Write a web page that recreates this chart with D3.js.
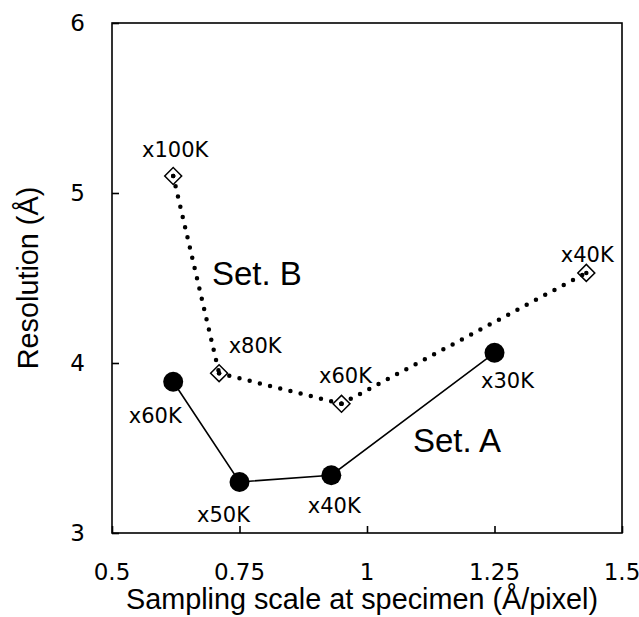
<!DOCTYPE html>
<html>
  <head>
    <meta charset="utf-8"/>
    <script type="text/javascript" src="https://cdnjs.cloudflare.com/ajax/libs/d3/7.8.5/d3.min.js"></script>
    <style type="text/css">

html, body {
  margin: 0;
  padding: 0;
  background: #fff;
}

.tick-label {
  font: 23px "DejaVu Sans", sans-serif;
  fill: #000;
}

.pt-label {
  font: 21px "DejaVu Sans", sans-serif;
  fill: #000;
}

.title, .set-label {
  font-family: "Liberation Sans", Arial, sans-serif;
  fill: #000;
}

    </style>
  </head>
  <body>
    <div id="chart"></div>
    <script type="text/javascript">

// Set A (filled circles, solid line)
var setAx = [0.62, 0.75, 0.93, 1.25];
var setAy = [3.89, 3.30, 3.34, 4.06];
var setAlabels = ["x60K", "x50K", "x40K", "x30K"];

// Set B (open diamonds, dotted line)
var setBx = [0.62, 0.71, 0.95, 1.43];
var setBy = [5.10, 3.94, 3.76, 4.53];
var setBlabels = ["x100K", "x80K", "x60K", "x40K"];

var xTicks = [0.5, 0.75, 1, 1.25, 1.5];
var yTicks = [3, 4, 5, 6];

var width = 639, height = 617;
// plot box edges (note: "top" is taken by window.top)
var boxL = 112, boxR = 622, boxT = 23, boxB = 533;

var svg = d3.select("#chart").append("svg")
    .attr("width", width)
    .attr("height", height);

var x = d3.scaleLinear().domain([0.5, 1.5]).range([boxL, boxR]);
var y = d3.scaleLinear().domain([3, 6]).range([boxB, boxT]);

// plot frame
svg.append("rect")
    .attr("x", boxL)
    .attr("y", boxT)
    .attr("width", boxR - boxL)
    .attr("height", boxB - boxT)
    .attr("fill", "none")
    .attr("stroke", "#000")
    .attr("stroke-width", 1.6);

// axes, ticks pointing inward
var xAxis = svg.append("g")
    .attr("transform", "translate(0," + boxB + ")")
    .call(d3.axisTop(x).tickValues(xTicks).tickSize(7).tickFormat(""));
var yAxis = svg.append("g")
    .attr("transform", "translate(" + boxL + ",0)")
    .call(d3.axisRight(y).tickValues(yTicks).tickSize(7).tickFormat(""));
[xAxis, yAxis].forEach(function(g) {
  g.select(".domain").remove();
  g.selectAll(".tick line").attr("stroke", "#000").attr("stroke-width", 1.6);
});

svg.selectAll(".xlab")
    .data(xTicks)
  .enter().append("text")
    .attr("class", "tick-label")
    .attr("x", function(d) { return x(d); })
    .attr("y", 580)
    .attr("text-anchor", "middle")
    .text(function(d) { return d; });

svg.selectAll(".ylab")
    .data(yTicks)
  .enter().append("text")
    .attr("class", "tick-label")
    .attr("x", boxL - 27)
    .attr("y", function(d) { return y(d) + 8; })
    .attr("text-anchor", "end")
    .text(function(d) { return d; });

// axis titles
svg.append("text")
    .attr("class", "title")
    .attr("x", 362)
    .attr("y", 609)
    .attr("text-anchor", "middle")
    .style("font-size", "28.8px")
    .text("Sampling scale at specimen (Å/pixel)");

svg.append("text")
    .attr("class", "title")
    .attr("transform", "translate(38," + ((boxT + boxB) / 2) + ") rotate(-90)")
    .attr("text-anchor", "middle")
    .style("font-size", "28.8px")
    .text("Resolution (Å)");

var A = setAx.map(function(v, i) { return {x: v, y: setAy[i], label: setAlabels[i]}; });
var B = setBx.map(function(v, i) { return {x: v, y: setBy[i], label: setBlabels[i]}; });

var line = d3.line()
    .x(function(d) { return x(d.x); })
    .y(function(d) { return y(d.y); });

// Set A
svg.append("path")
    .datum(A)
    .attr("d", line)
    .attr("fill", "none")
    .attr("stroke", "#000")
    .attr("stroke-width", 1.6);

svg.selectAll(".ptA")
    .data(A)
  .enter().append("circle")
    .attr("cx", function(d) { return x(d.x); })
    .attr("cy", function(d) { return y(d.y); })
    .attr("r", 10)
    .attr("fill", "#000");

// Set B: diamonds below the dotted line, as in the original
svg.selectAll(".ptB")
    .data(B)
  .enter().append("path")
    .attr("d", d3.symbol().type(d3.symbolSquare).size(144))
    .attr("transform", function(d) {
      return "translate(" + x(d.x) + "," + y(d.y) + ") rotate(45)";
    })
    .attr("fill", "#fff")
    .attr("stroke", "#000")
    .attr("stroke-width", 1.5);

// each segment drawn on its own so the dots restart at each point
d3.pairs(B).forEach(function(p) {
  svg.append("path")
      .datum(p)
      .attr("d", line)
      .attr("fill", "none")
      .attr("stroke", "#000")
      .attr("stroke-width", 4.5)
      .attr("stroke-linecap", "round")
      .attr("stroke-dasharray", "0 10.5");
});

// the line's dot shows in the middle of every diamond
svg.selectAll(".dotB")
    .data(B)
  .enter().append("circle")
    .attr("cx", function(d) { return x(d.x); })
    .attr("cy", function(d) { return y(d.y); })
    .attr("r", 2.25)
    .attr("fill", "#000");

// point labels: [dx, dy of baseline]
var offA = [[-18, 41], [-16, 40], [3, 38], [13, 35]];
var offB = [[2, -19], [36, -20], [4, -21], [1, -11]];

svg.selectAll(".labA")
    .data(A)
  .enter().append("text")
    .attr("class", "pt-label")
    .attr("text-anchor", "middle")
    .attr("x", function(d, i) { return x(d.x) + offA[i][0]; })
    .attr("y", function(d, i) { return y(d.y) + offA[i][1]; })
    .text(function(d) { return d.label; });

svg.selectAll(".labB")
    .data(B)
  .enter().append("text")
    .attr("class", "pt-label")
    .attr("text-anchor", "middle")
    .attr("x", function(d, i) { return x(d.x) + offB[i][0]; })
    .attr("y", function(d, i) { return y(d.y) + offB[i][1]; })
    .text(function(d) { return d.label; });

svg.append("text")
    .attr("class", "set-label")
    .attr("x", 212)
    .attr("y", 285)
    .style("font-size", "33px")
    .text("Set. B");

svg.append("text")
    .attr("class", "set-label")
    .attr("x", 413)
    .attr("y", 452)
    .style("font-size", "33px")
    .text("Set. A");

    </script>
  </body>
</html>
